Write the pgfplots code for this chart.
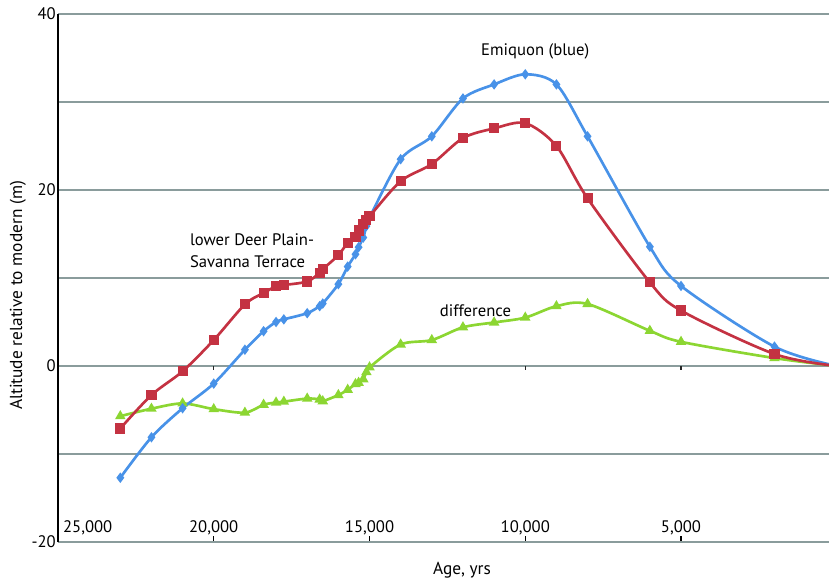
\documentclass[border=0pt]{standalone}
\usepackage{pgfplots}
\pgfplotsset{compat=1.18}
\usepackage{fontspec}
\setmainfont{PT Sans}
\definecolor{cblue}{RGB}{72,146,232}
\definecolor{cred}{RGB}{196,50,66}
\definecolor{cgreen}{RGB}{140,214,50}
\definecolor{cgrid}{RGB}{138,156,156}

\pgfplotstableread{
x y
23000 -12.7
22000 -8.1
21000 -4.8
20000 -2.0
19000 1.85
18400 3.95
18000 5.0
17750 5.3
17000 6.0
16600 6.8
16500 7.1
16000 9.3
15700 11.3
15450 12.7
15350 13.5
15200 14.6
15100 15.9
15000 16.85
14000 23.5
13000 26.1
12000 30.4
11000 32.0
10000 33.15
9000 32.0
8000 26.1
6000 13.55
5000 9.1
2000 2.2
0 0
}\blue
\pgfplotstableread{
x y
23000 -7.1
22000 -3.3
21000 -0.6
20000 2.95
19000 7.0
18400 8.3
18000 9.05
17750 9.2
17000 9.6
16600 10.6
16500 11.0
16000 12.6
15700 14.0
15450 14.7
15350 15.4
15200 16.1
15100 16.6
15000 17.0
14000 21.0
13000 22.95
12000 25.9
11000 27.0
10000 27.6
9000 25.0
8000 19.05
6000 9.5
5000 6.3
2000 1.36
0 0
}\red
\pgfplotstableread{
x y
23000 -5.7
22000 -4.85
21000 -4.25
20000 -4.9
19000 -5.3
18400 -4.4
18000 -4.15
17750 -4.05
17000 -3.7
16600 -3.8
16500 -4.0
16000 -3.3
15700 -2.7
15450 -2.05
15350 -1.9
15200 -1.5
15100 -0.7
15000 -0.15
14000 2.45
13000 2.95
12000 4.4
11000 4.95
10000 5.5
9000 6.8
8000 7.05
6000 4.0
5000 2.75
2000 0.9
0 0
}\green

\begin{document}
\begin{tikzpicture}
\useasboundingbox (-43.5pt,-27.75pt) rectangle (578.25pt,406.5pt);
\begin{axis}[
  at={(0,0)}, anchor=south west,
  scale only axis, width=578.25pt, height=396pt,
  x dir=reverse, xmin=250, xmax=25000, ymin=-20, ymax=40,
  axis x line*=bottom, axis y line*=left,
  x axis line style={draw=cgrid, line width=0.9pt},
  y axis line style={draw=black, line width=1pt},
  ytick={-20,-10,...,40}, yticklabels={-20,,0,,20,,40},
  ymajorgrids, grid style={cgrid, line width=0.9pt},
  ytick style={draw=none},
  yticklabel style={anchor=east, inner sep=1.5pt},
  scaled x ticks=false,
  xtick={5000,10000,15000,20000},
  xticklabels={{5,000},{10,000},{15,000},{20,000}},
  xtick align=inside, major tick length=4.5pt,
  major x tick style={draw=black, line width=0.9pt},
  xticklabel style={anchor=base, yshift=7.5pt},
  extra x ticks={25000}, extra x tick labels={25{,}000},
  extra x tick style={major tick length=0pt, xticklabel style={anchor=base west, xshift=0.3pt}},
  tick label style={font=\fontsize{12.5}{15}\selectfont},
  /pgf/number format/assume math mode=true,
  xlabel={Age, yrs}, ylabel={Altitude relative to modern (m)},
  every axis x label/.style={at={(axis description cs:0.524,-0.053)}, anchor=center, font=\fontsize{13}{15}\selectfont},
  every axis y label/.style={at={(axis description cs:-0.052,0.467)}, rotate=90, anchor=center, font=\fontsize{13}{15}\selectfont},
  clip=true,
]
\addplot[cgreen, line width=2pt, smooth, tension=0.5, mark=triangle*, mark size=2.6pt, mark options={solid}] table[x=x,y=y] {\green};
\addplot[cblue, line width=2pt, smooth, tension=0.5, mark=diamond*, mark size=2.3pt, mark options={solid}] table[x=x,y=y] {\blue};
\addplot[cred, line width=2pt, smooth, tension=0.5, mark=square*, mark size=2.8pt, mark options={solid}] table[x=x,y=y] {\red};
\draw[black!85, line width=0.8pt] (axis cs:20000,0) -- (axis cs:20000,-0.4);
\draw[black!85, line width=0.8pt] (axis cs:15000,0) -- (axis cs:15000,-0.4);
\draw[black!85, line width=0.8pt] (axis cs:10000,0) -- (axis cs:10000,-0.4);
\draw[black!85, line width=0.8pt] (axis cs:5000,0) -- (axis cs:5000,-0.4);
\node[font=\fontsize{12.5}{15}\selectfont] at (axis cs:9680,35.7) {Emiquon (blue)};
\node[font=\fontsize{12.5}{16.5}\selectfont, align=left, anchor=west, inner sep=0pt] at (axis cs:20770,13.1) {lower Deer Plain-\\Savanna Terrace};
\node[font=\fontsize{12.5}{15}\selectfont] at (axis cs:11600,6.25) {difference};
\end{axis}
\end{tikzpicture}
\end{document}
